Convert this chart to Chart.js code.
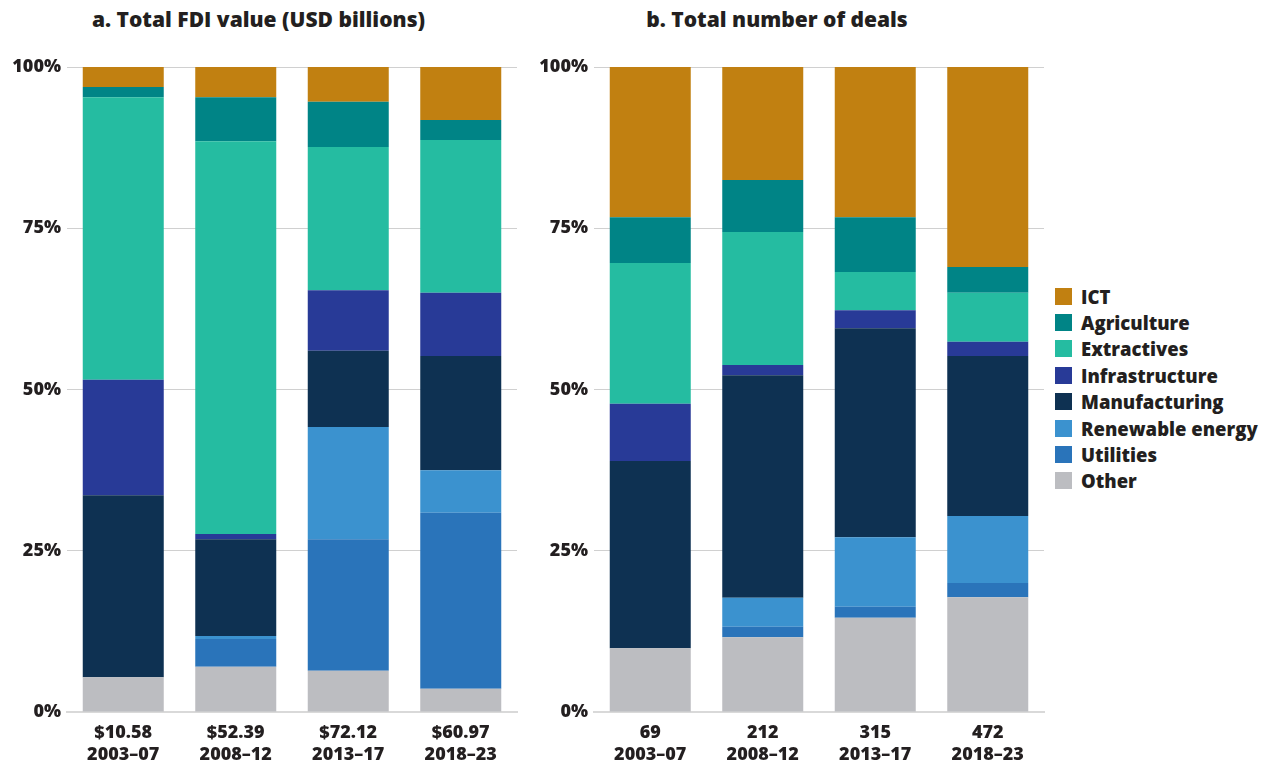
<!DOCTYPE html>
<html lang="en">
<head>
    <meta charset="UTF-8">
    <title>FDI by sector</title>
    <script src="https://cdn.jsdelivr.net/npm/chart.js@4.4.1/dist/chart.umd.min.js"></script>
    <style>
        body {
            margin: 0;
            background: #fff;
            font-family: 'Open Sans', sans-serif;
            color: #231f20;
        }
        #wrap {
            position: relative;
            width: 1267px;
            height: 765px;
        }
        .title {
            position: absolute;
            top: 5px;
            font-size: 21px;
            font-weight: 800;
            text-align: center;
        }
        #boxA, #boxB {
            position: absolute;
            top: 0;
            width: 525px;
            height: 765px;
        }
        #boxA { left: 0; }
        #boxB { left: 527px; }
        #legend {
            position: absolute;
            left: 1055px;
            top: 283px;
            font-size: 18.5px;
            font-weight: 800;
        }
        .item {
            display: flex;
            align-items: center;
            height: 26.4px;
        }
        .swatch {
            width: 17px;
            height: 17px;
            margin-right: 9px;
        }
    </style>
</head>
<body>
<div id="wrap">
    <div class="title" style="left:0;width:517px;">a. Total FDI value (USD billions)</div>
    <div class="title" style="left:527px;width:500px;">b. Total number of deals</div>
    <div id="boxA"><canvas id="chartA"></canvas></div>
    <div id="boxB"><canvas id="chartB"></canvas></div>
    <div id="legend"></div>
</div>

<script>
    // bottom-to-top stacking order
    var sectors = ['Other', 'Utilities', 'Renewable energy', 'Manufacturing', 'Infrastructure', 'Extractives', 'Agriculture', 'ICT'];
    var colors = ['#bcbdc1', '#2a74ba', '#3b92cf', '#0e3152', '#283a97', '#25bca1', '#008486', '#c18011'];

    var periods = ['2003–07', '2008–12', '2013–17', '2018–23'];
    var fdiTotals = ['$10.58', '$52.39', '$72.12', '$60.97'];
    var dealTotals = ['69', '212', '315', '472'];
    var yTicks = [0, 25, 50, 75, 100];

    // shares in %, one array per sector (same order as sectors)
    var fdiShares = [
        [5.4, 7.0, 6.4, 3.6],      // Other
        [0, 4.3, 20.4, 27.3],      // Utilities
        [0, 0.5, 17.4, 6.6],       // Renewable energy
        [28.2, 15.0, 11.8, 17.7],  // Manufacturing
        [17.9, 0.8, 9.4, 9.8],     // Infrastructure
        [43.8, 60.9, 22.2, 23.7],  // Extractives
        [1.6, 6.8, 7.0, 3.1],      // Agriculture
        [3.1, 4.7, 5.4, 8.2]       // ICT
    ];
    var dealShares = [
        [9.9, 11.6, 14.6, 17.8],   // Other
        [0, 1.6, 1.7, 2.2],        // Utilities
        [0, 4.5, 10.8, 10.4],      // Renewable energy
        [29.0, 34.5, 32.4, 24.8],  // Manufacturing
        [8.9, 1.6, 2.8, 2.2],      // Infrastructure
        [21.8, 20.6, 5.9, 7.6],    // Extractives
        [7.1, 8.1, 8.5, 4.0],      // Agriculture
        [23.3, 17.5, 23.3, 31.0]   // ICT
    ];

    var font = { family: 'Open Sans', weight: '800', size: 18, lineHeight: 1.22 };

    function makeChart(id, shares, totals) {
        var labels = periods.map(function (p, i) { return [totals[i], p]; });
        var datasets = sectors.map(function (s, i) {
            return {
                label: s,
                data: shares[i],
                backgroundColor: colors[i],
                borderWidth: 0,
                barPercentage: 0.72,
                categoryPercentage: 1.0
            };
        });
        return new Chart(document.getElementById(id), {
            type: 'bar',
            data: { labels: labels, datasets: datasets },
            options: {
                responsive: true,
                maintainAspectRatio: false,
                animation: false,
                layout: { padding: { top: 67, right: 8, left: 0, bottom: 0 } },
                plugins: { legend: { display: false }, tooltip: { enabled: false } },
                scales: {
                    x: {
                        stacked: true,
                        grid: { display: false, drawTicks: false },
                        border: { display: true, color: '#d9d9d9', width: 2 },
                        ticks: { color: '#231f20', font: font, padding: 10, maxRotation: 0 },
                        afterFit: function (s) { s.height = 53; }
                    },
                    y: {
                        stacked: true,
                        min: 0,
                        max: 100,
                        afterBuildTicks: function (s) { s.ticks = yTicks.map(function (v) { return { value: v }; }); },
                        grid: { color: '#d0d0d0', lineWidth: 1, drawTicks: false },
                        border: { display: false },
                        ticks: {
                            color: '#231f20', font: font, padding: 6,
                            callback: function (v) { return v + '%'; }
                        },
                        afterFit: function (s) { s.width = 67; }
                    }
                }
            }
        });
    }

    makeChart('chartA', fdiShares, fdiTotals);
    makeChart('chartB', dealShares, dealTotals);

    // legend, ICT first
    var legend = document.getElementById('legend');
    for (var i = sectors.length - 1; i >= 0; i--) {
        var row = document.createElement('div');
        row.className = 'item';
        row.innerHTML = '<span class="swatch" style="background:' + colors[i] + '"></span>' + sectors[i];
        legend.appendChild(row);
    }
</script>
</body>
</html>
